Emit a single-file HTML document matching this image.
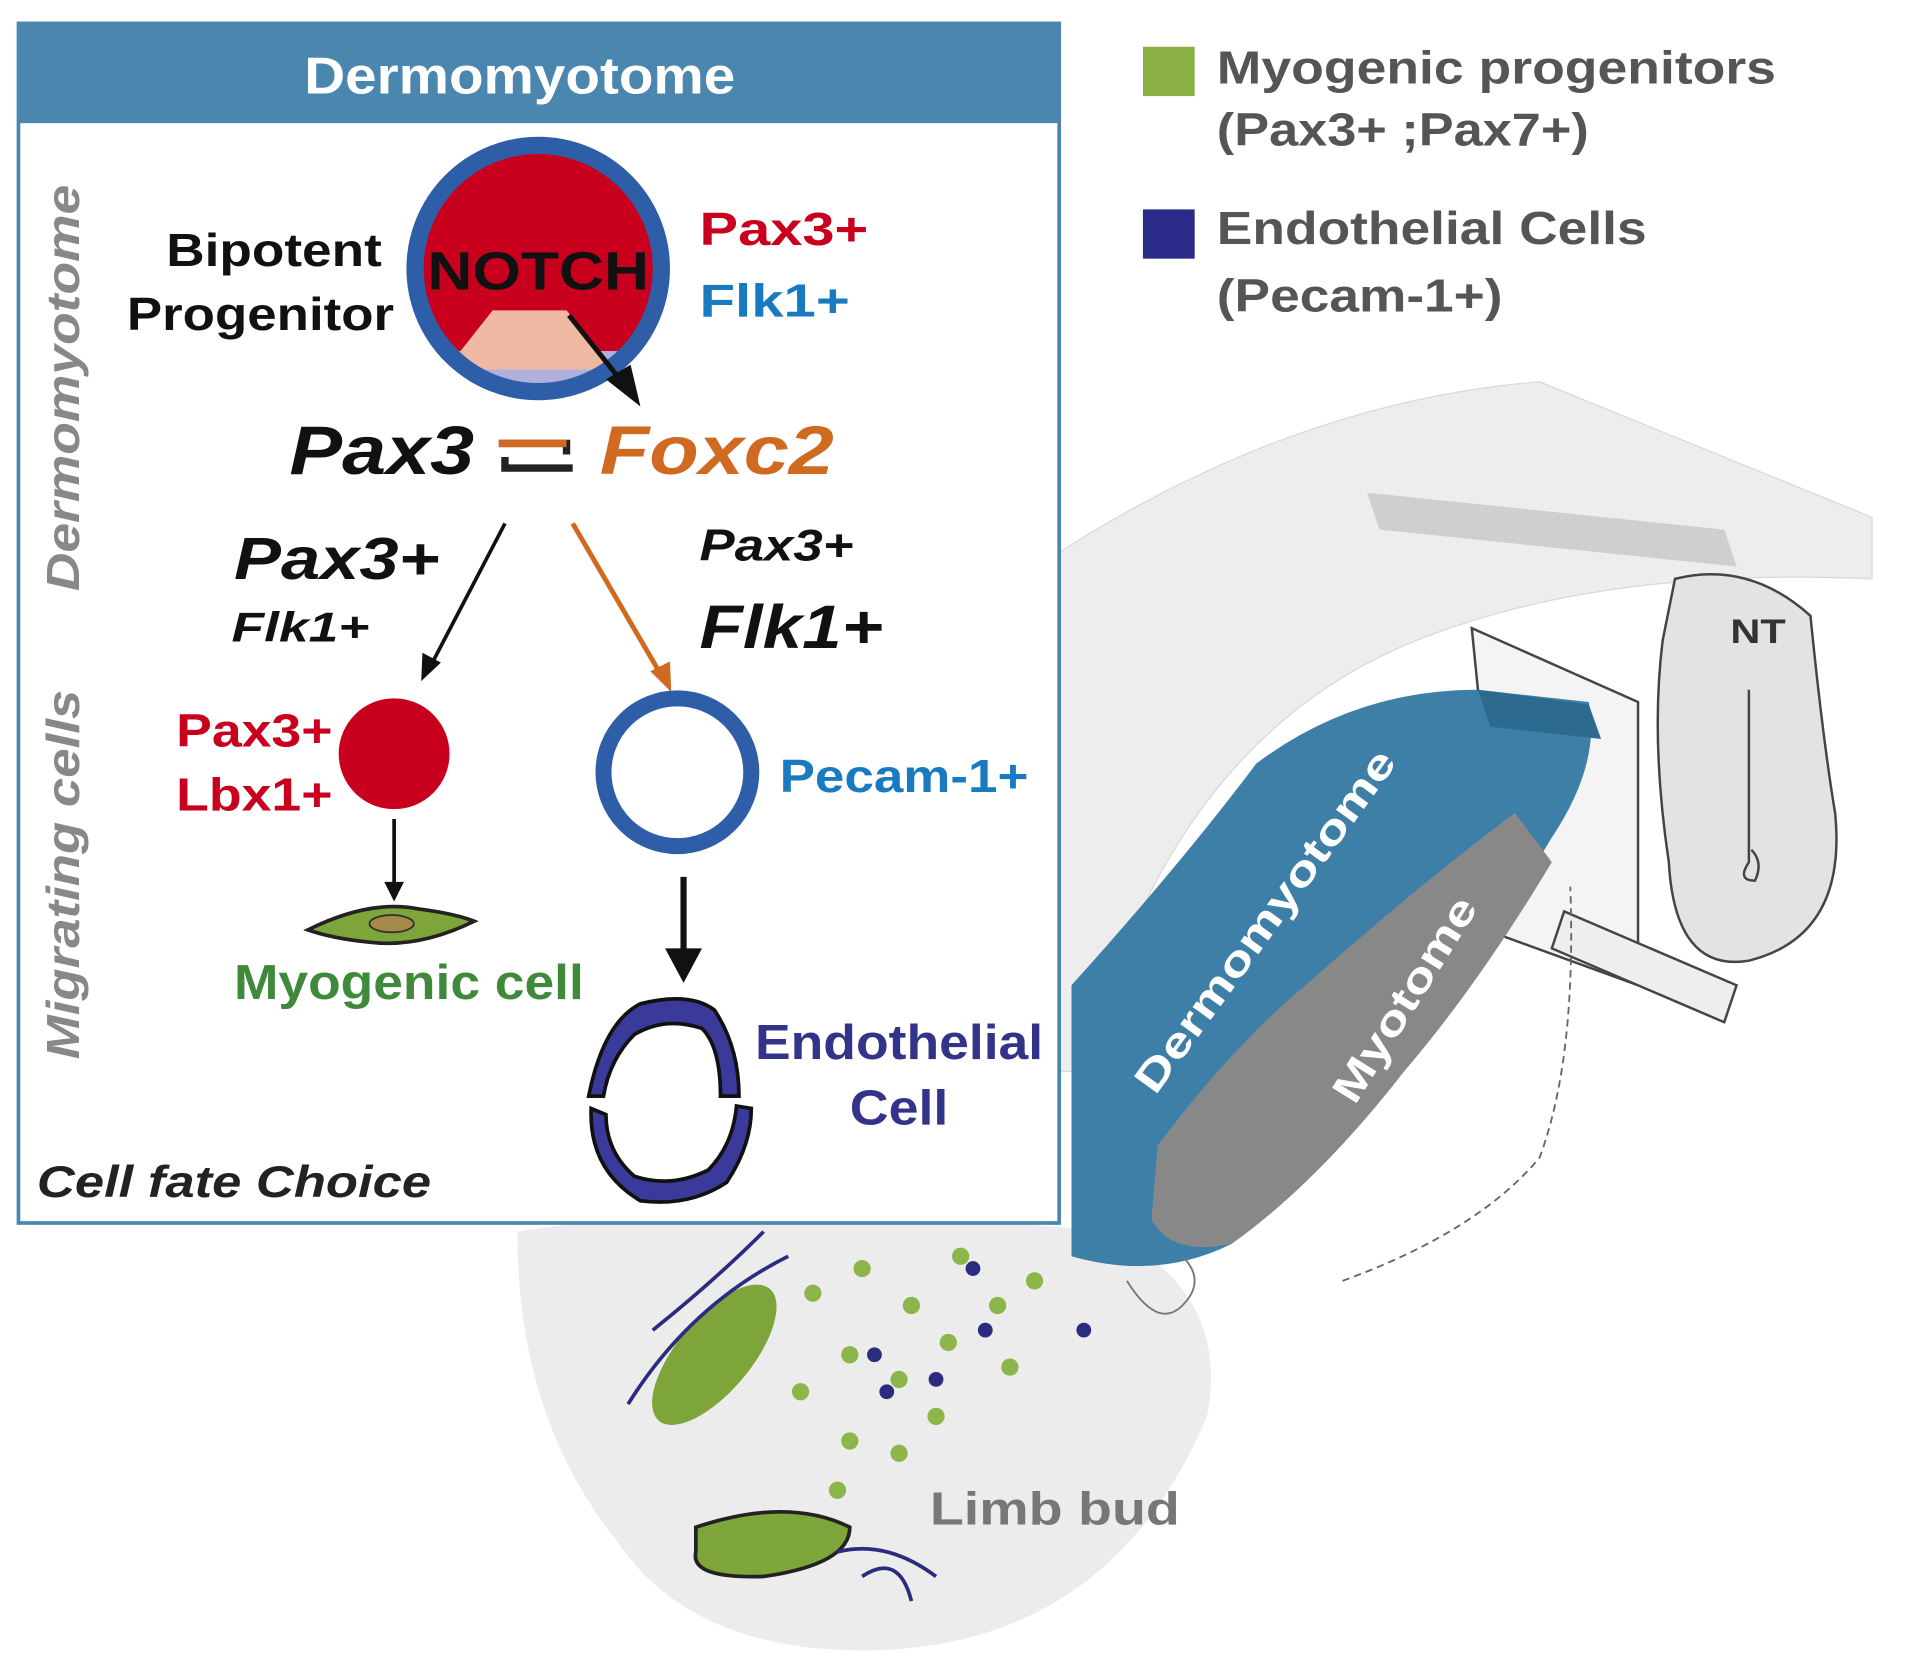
<!DOCTYPE html>
<html><head><meta charset="utf-8"><style>
html,body{margin:0;padding:0;background:#fff}
svg{display:block}
text{font-family:"Liberation Sans",Arial,sans-serif;font-weight:bold}
</style></head><body>
<svg width="1925" height="1659" viewBox="0 0 1563 1347" xmlns="http://www.w3.org/2000/svg">
<!-- background illustration -->
<path d="M760 520 Q1000 330 1250 310 L1520 420 L1520 470 Q1300 460 1150 520 Q950 600 880 870 L760 870 Z" fill="#ededed" stroke="#d8d8d8"/>
<path d="M1110 400 L1400 430 L1410 460 L1120 430 Z" fill="#cfcfcf"/>
<path d="M1195 510 L1330 570 L1330 800 L1220 760 Z" fill="#f4f4f4" stroke="#444" stroke-width="2"/>
<path d="M1360 470 Q1420 455 1470 500 Q1480 600 1490 660 Q1500 760 1420 780 Q1360 790 1355 700 Q1340 600 1350 520 Z" fill="#e3e3e3" stroke="#444" stroke-width="2"/>
<text x="1405" y="522" font-size="28" fill="#333" textLength="45" lengthAdjust="spacingAndGlyphs">NT</text>
<path d="M1420 560 L1420 700 Q1410 715 1425 715 Q1432 700 1422 690" fill="none" stroke="#444" stroke-width="2"/>
<path d="M1270 740 L1410 800 L1400 830 L1260 770 Z" fill="#eee" stroke="#444" stroke-width="2"/>
<path d="M420 1000 Q600 970 900 1000 Q1000 1050 980 1150 Q900 1340 700 1340 Q560 1340 500 1250 Q420 1150 420 1000 Z" fill="#ececec"/>
<path d="M870 800 Q960 700 1020 620 Q1100 560 1200 560 L1290 570 Q1300 620 1260 680 Q1200 780 1140 850 Q1060 950 1000 1010 Q940 1040 870 1020 Z" fill="#3e7fa8"/>
<path d="M940 930 Q1000 850 1060 800 Q1150 720 1230 660 L1260 700 Q1200 800 1140 870 Q1070 960 1000 1010 Q950 1020 935 990 Z" fill="#888"/>
<path d="M1200 560 L1290 572 L1300 600 L1210 590 Z" fill="#2d6a90"/>
<text transform="translate(938,890) rotate(-54)" font-size="34" fill="#fff" textLength="335" lengthAdjust="spacingAndGlyphs">Dermomyotome</text>
<text transform="translate(1100,898) rotate(-58)" font-size="34" fill="#fff" textLength="190" lengthAdjust="spacingAndGlyphs">Myotome</text>
<path d="M1090 1040 Q1200 1000 1250 940 Q1280 860 1275 720" fill="none" stroke="#666" stroke-width="1.5" stroke-dasharray="6 4"/>
<path d="M915 1040 Q940 1080 960 1060 Q980 1040 960 1020" fill="none" stroke="#777" stroke-width="1.5"/>
<ellipse cx="580" cy="1100" rx="30" ry="70" transform="rotate(40 580 1100)" fill="#7ea53a"/>
<path d="M565 1240 Q640 1215 690 1240 Q690 1270 620 1280 Q560 1282 565 1260 Z" fill="#7ea53a" stroke="#222" stroke-width="3"/>
<g fill="#8db64a">
<circle cx="660" cy="1050" r="7"/><circle cx="700" cy="1030" r="7"/><circle cx="740" cy="1060" r="7"/><circle cx="780" cy="1020" r="7"/><circle cx="690" cy="1100" r="7"/><circle cx="730" cy="1120" r="7"/><circle cx="770" cy="1090" r="7"/><circle cx="810" cy="1060" r="7"/><circle cx="840" cy="1040" r="7"/><circle cx="690" cy="1170" r="7"/><circle cx="730" cy="1180" r="7"/><circle cx="760" cy="1150" r="7"/><circle cx="680" cy="1210" r="7"/><circle cx="820" cy="1110" r="7"/><circle cx="650" cy="1130" r="7"/>
</g>
<g fill="#2b2b80"><circle cx="800" cy="1080" r="6"/><circle cx="720" cy="1130" r="6"/><circle cx="760" cy="1120" r="6"/><circle cx="880" cy="1080" r="6"/><circle cx="790" cy="1030" r="6"/><circle cx="710" cy="1100" r="6"/></g>
<path d="M510 1140 Q560 1060 640 1020 M530 1080 Q580 1040 620 1000 M680 1260 Q720 1250 760 1280 M700 1280 Q730 1260 740 1300" fill="none" stroke="#2b2b80" stroke-width="3"/>
<text x="755" y="1238" font-size="38" fill="#777" textLength="203" lengthAdjust="spacingAndGlyphs">Limb bud</text>

<!-- legend -->
<rect x="928" y="38" width="42" height="40" fill="#8bb043"/>
<text x="988" y="68" font-size="38" fill="#555" textLength="454" lengthAdjust="spacingAndGlyphs">Myogenic progenitors</text>
<text x="988" y="118" font-size="38" fill="#555" textLength="302" lengthAdjust="spacingAndGlyphs">(Pax3+ ;Pax7+)</text>
<rect x="928" y="170" width="42" height="40" fill="#2a2a88"/>
<text x="988" y="198" font-size="38" fill="#555" textLength="349" lengthAdjust="spacingAndGlyphs">Endothelial Cells</text>
<text x="988" y="253" font-size="38" fill="#555" textLength="232" lengthAdjust="spacingAndGlyphs">(Pecam-1+)</text>

<!-- box -->
<rect x="15" y="19" width="845" height="974" fill="#fff" stroke="#4a86ae" stroke-width="3"/>
<rect x="14" y="18" width="847" height="82" fill="#4a86ae"/>
<text x="247" y="76" font-size="42" fill="#fff" textLength="350" lengthAdjust="spacingAndGlyphs">Dermomyotome</text>
<text transform="translate(64,480) rotate(-90)" font-size="38" fill="#888" font-style="italic" textLength="330" lengthAdjust="spacingAndGlyphs">Dermomyotome</text>
<text transform="translate(64,860) rotate(-90)" font-size="38" fill="#888" font-style="italic" textLength="300" lengthAdjust="spacingAndGlyphs">Migrating cells</text>

<!-- progenitor -->
<clipPath id="c"><circle cx="437" cy="218" r="100"/></clipPath>
<circle cx="437" cy="218" r="100" fill="#c8001e"/>
<g clip-path="url(#c)"><rect x="330" y="285" width="220" height="60" fill="#b0b0dd"/><path d="M370 290 L400 252 L460 252 L500 300 L380 300 Z" fill="#efb8a3"/></g>
<circle cx="437" cy="218" r="100" fill="none" stroke="#2f5ea8" stroke-width="14"/>
<text x="347" y="235" font-size="44" fill="#111" textLength="180" lengthAdjust="spacingAndGlyphs">NOTCH</text>
<line x1="462" y1="256" x2="505" y2="310" stroke="#111" stroke-width="4"/>
<path d="M520 330 L492 308 L512 296 Z" fill="#111"/>
<text x="135" y="216" font-size="38" fill="#111" textLength="175" lengthAdjust="spacingAndGlyphs">Bipotent</text>
<text x="103" y="268" font-size="38" fill="#111" textLength="217" lengthAdjust="spacingAndGlyphs">Progenitor</text>
<text x="568" y="199" font-size="38" fill="#c8001e" textLength="137" lengthAdjust="spacingAndGlyphs">Pax3+</text>
<text x="568" y="257" font-size="38" fill="#1a7ac0" textLength="122" lengthAdjust="spacingAndGlyphs">Flk1+</text>

<text x="235" y="385" font-size="56" fill="#111" font-style="italic" textLength="150" lengthAdjust="spacingAndGlyphs">Pax3</text>
<path d="M405 360 L460 360 L460 369 M465 380 L410 380 L410 371" fill="none" stroke="#222" stroke-width="6"/>
<path d="M405 360 L460 360" stroke="#d06a20" stroke-width="6"/>
<text x="487" y="385" font-size="56" fill="#d06a20" font-style="italic" textLength="190" lengthAdjust="spacingAndGlyphs">Foxc2</text>

<text x="190" y="470" font-size="48" fill="#111" font-style="italic" textLength="167" lengthAdjust="spacingAndGlyphs">Pax3+</text>
<text x="188" y="521" font-size="34" fill="#111" font-style="italic" textLength="112" lengthAdjust="spacingAndGlyphs">Flk1+</text>
<text x="568" y="455" font-size="36" fill="#111" font-style="italic" textLength="125" lengthAdjust="spacingAndGlyphs">Pax3+</text>
<text x="568" y="526" font-size="50" fill="#111" font-style="italic" textLength="149" lengthAdjust="spacingAndGlyphs">Flk1+</text>

<line x1="410" y1="425" x2="350" y2="540" stroke="#111" stroke-width="3"/>
<path d="M342 553 L343 530 L358 538 Z" fill="#111"/>
<line x1="465" y1="425" x2="535" y2="545" stroke="#d06a20" stroke-width="4"/>
<path d="M545 562 L528 545 L544 537 Z" fill="#d06a20"/>

<circle cx="320" cy="612" r="45" fill="#c8001e"/>
<text x="143" y="606" font-size="38" fill="#c8001e" textLength="127" lengthAdjust="spacingAndGlyphs">Pax3+</text>
<text x="143" y="658" font-size="38" fill="#c8001e" textLength="127" lengthAdjust="spacingAndGlyphs">Lbx1+</text>
<circle cx="550" cy="627" r="60" fill="none" stroke="#2f5ea8" stroke-width="13"/>
<text x="633" y="643" font-size="38" fill="#1a7ac0" textLength="202" lengthAdjust="spacingAndGlyphs">Pecam-1+</text>

<line x1="320" y1="665" x2="320" y2="720" stroke="#111" stroke-width="3"/>
<path d="M320 732 L312 716 L328 716 Z" fill="#111"/>
<path d="M250 755 Q300 730 340 738 Q370 742 385 748 Q340 770 300 765 Q270 762 250 755 Z" fill="#7ea53a" stroke="#222" stroke-width="3"/>
<ellipse cx="318" cy="750" rx="18" ry="7" fill="#a58a4a" stroke="#333" stroke-width="1.5"/>
<text x="190" y="811" font-size="40" fill="#3f8a3a" textLength="284" lengthAdjust="spacingAndGlyphs">Myogenic cell</text>

<line x1="555" y1="712" x2="555" y2="775" stroke="#111" stroke-width="5"/>
<path d="M555 798 L540 770 L570 770 Z" fill="#111"/>
<path d="M478 890 Q490 830 520 815 Q560 805 580 820 Q600 850 600 890 L585 890 Q585 850 570 835 Q540 825 515 840 Q495 860 490 890 Z" fill="#3a3a9a" stroke="#111" stroke-width="3"/>
<path d="M480 900 Q478 950 520 975 Q560 980 590 960 Q610 930 610 900 L598 898 Q595 930 575 950 Q545 965 515 955 Q492 935 492 905 Z" fill="#3a3a9a" stroke="#111" stroke-width="3"/>
<text x="613" y="860" font-size="40" fill="#33338a" textLength="234" lengthAdjust="spacingAndGlyphs">Endothelial</text>
<text x="690" y="913" font-size="40" fill="#33338a" textLength="80" lengthAdjust="spacingAndGlyphs">Cell</text>
<text x="30" y="972" font-size="36" fill="#222" font-style="italic" textLength="320" lengthAdjust="spacingAndGlyphs">Cell fate Choice</text>
</svg>
</body></html>
